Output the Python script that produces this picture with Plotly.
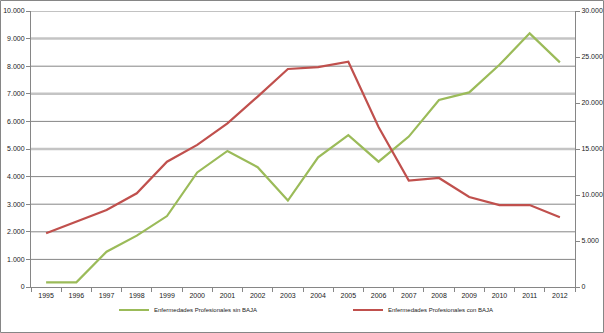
import plotly.graph_objects as go

years = [str(y) for y in range(1995, 2013)]
sin_baja = [170, 170, 1280, 1860, 2570, 4150, 4930, 4340, 3130, 4700, 5500, 4540, 5450, 6775, 7050, 8050, 9190, 8140]
con_baja = [5840, 7140, 8370, 10190, 13620, 15450, 17790, 20700, 23700, 23900, 24490, 17400, 11560, 11850, 9780, 8910, 8910, 7580]
name_sin = "Enfermedades Profesionales sin BAJA"
name_con = "Enfermedades Profesionales con BAJA"

W, H = 604, 333
L, R, T, B = 31, 29, 11, 46
pw, ph = W - L - R, H - T - B

font = dict(family="Liberation Sans, Arial, sans-serif", size=7, color="#1a1a1a")

fig = go.Figure()
fig.add_trace(go.Scatter(x=years, y=sin_baja, name=name_sin, mode="lines",
                         line=dict(color="#9BBB59", width=2.2), legend="legend"))
fig.add_trace(go.Scatter(x=years, y=con_baja, name=name_con, mode="lines",
                         line=dict(color="#C0504D", width=2.2), yaxis="y2", legend="legend2"))

shapes = []
for v in range(1000, 10001, 1000):
    light = v in (5000, 7000, 9000)
    shapes.append(dict(type="line", xref="paper", yref="y", x0=0, x1=1, y0=v, y1=v,
                       line=dict(color="#C4C4C4" if light else "#868686", width=2.5 if light else 1),
                       layer="below"))
shapes.append(dict(type="rect", xref="paper", yref="paper",
                   x0=(0.5 - L) / pw, x1=(W - 0.5 - L) / pw,
                   y0=(T + ph - (H - 0.5)) / ph, y1=(T + ph - 0.5) / ph,
                   line=dict(color="#868686", width=1)))

legfont = dict(family=font["family"], size=6, color="#1a1a1a")
fig.update_layout(
    width=W, height=H, margin=dict(l=L, r=R, t=T, b=B, autoexpand=False),
    paper_bgcolor="white", plot_bgcolor="white",
    separators=",.",
    font=font,
    shapes=shapes,
    xaxis=dict(type="category", showgrid=False, showline=True, linecolor="#868686", linewidth=1,
               ticks="outside", tickson="boundaries", ticklen=4, tickcolor="#868686",
               tickfont=font, range=[-0.5, 17.5], ticklabelstandoff=2),
    yaxis=dict(range=[0, 10000], dtick=1000, tickformat=",d", showgrid=False,
               showline=True, linecolor="#868686", ticks="outside", ticklen=4,
               tickcolor="#868686", tickfont=font, zeroline=False),
    yaxis2=dict(range=[0, 30000], dtick=5000, tickformat=",d", overlaying="y", side="right",
                showgrid=False, showline=True, linecolor="#868686", ticks="outside", ticklen=4,
                tickcolor="#868686", tickfont=font, zeroline=False),
    legend=dict(orientation="h", x=(114 - L) / pw, y=(T + ph - 310) / ph, xanchor="left", yanchor="middle",
                font=legfont, bgcolor="rgba(0,0,0,0)", itemwidth=30),
    legend2=dict(orientation="h", x=(348 - L) / pw, y=(T + ph - 310) / ph, xanchor="left", yanchor="middle",
                 font=legfont, bgcolor="rgba(0,0,0,0)", itemwidth=30),
    showlegend=True,
)

fig.write_html("out.html")
